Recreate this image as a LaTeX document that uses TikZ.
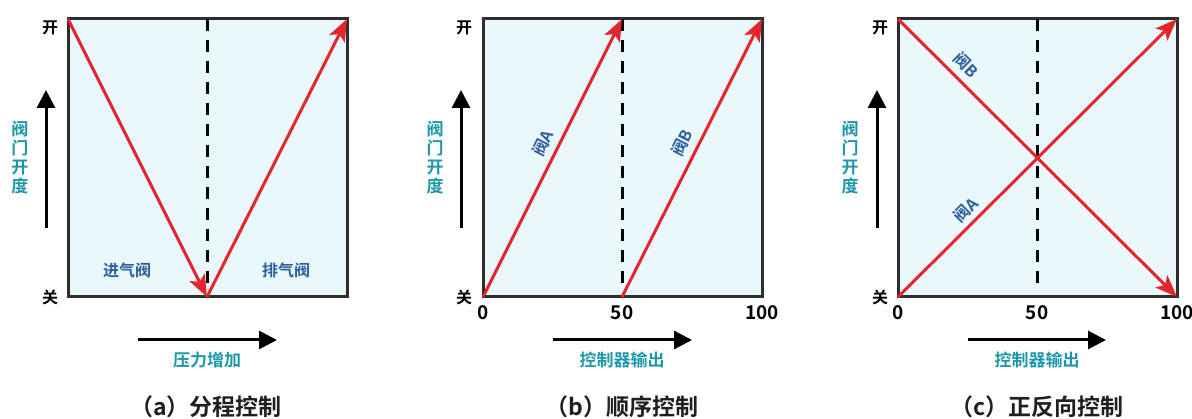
\documentclass[tikz,border=0pt]{standalone}
\usepackage{fontspec}
\setmainfont{Noto Sans CJK SC}[BoldFont={Noto Sans CJK SC Bold}]
\usetikzlibrary{arrows.meta}
\definecolor{bgfill}{HTML}{E9F8FB}
\definecolor{redline}{HTML}{E3262C}
\definecolor{lblue}{HTML}{2F5E9C}
\definecolor{axteal}{HTML}{1C98A8}
\definecolor{boxgray}{HTML}{2E2E2E}
\tikzset{
  panelbox/.style={draw=boxgray, line width=3pt, fill=bgfill},
  redarr/.style={draw=redline, line width=3pt, -{Stealth[length=22pt,width=17pt,inset=5pt]}},
  axarr/.style={draw=black, line width=3pt, -{Triangle[length=18pt,width=18pt]}},
  midline/.style={draw=black, line width=3pt, dash pattern=on 12pt off 9pt},
  oclabel/.style={font=\fontsize{16}{16}\selectfont\bfseries, text=black, inner sep=0pt},
  vlabel/.style={font=\fontsize{17}{19}\selectfont\bfseries, text=axteal, align=center, inner sep=0pt},
  hlabel/.style={font=\fontsize{17}{17}\selectfont\bfseries, text=axteal, inner sep=0pt},
  tick/.style={font=\fontsize{19}{19}\selectfont\bfseries, text=black, inner sep=0pt},
  valvelbl/.style={font=\fontsize{16}{16}\selectfont\bfseries, text=lblue, inner sep=0pt},
  caption/.style={font=\fontsize{23}{23}\selectfont\bfseries, text=black!88, inner sep=0pt},
}
\begin{document}
\begin{tikzpicture}[x=1pt,y=-1pt]
\useasboundingbox (0,0) rectangle (1192,419);

% ---------- panel (a) ----------
\coordinate (aTL) at (68,19);
\coordinate (aBR) at (347,297);
\coordinate (aBL) at (68,297);
\coordinate (aTR) at (347,19);
\coordinate (aMT) at (207,19);
\coordinate (aMB) at (207,297);
\coordinate (aMD) at (207,289);
\draw[panelbox] (aTL) rectangle (aBR);
\draw[midline] (aMT) -- (aMD);
\draw[redarr] (aTL) -- (aMB);
\draw[redarr] (aMB) -- (aTR);
\node[oclabel] (aopen) at (50,28) {开};
\node[oclabel] (aclose) at (50,297) {关};
\coordinate (avs) at (46,228);
\coordinate (ave) at (46,90);
\draw[axarr] (avs) -- (ave);
\node[vlabel] (avl) at (20,158) {阀\\门\\开\\度};
\coordinate (ahs) at (138,340);
\coordinate (ahe) at (277,340);
\draw[axarr] (ahs) -- (ahe);
\node[hlabel] (ahl) at (207,360) {压力增加};
\node[valvelbl] (ain) at (127,270) {进气阀};
\node[valvelbl] (aout) at (286,270) {排气阀};
\node[caption] (acap) at (206,407) {（a）分程控制};

% ---------- panel (b) ----------
\coordinate (bTL) at (483,19);
\coordinate (bBR) at (762,297);
\coordinate (bBL) at (483,297);
\coordinate (bTR) at (762,19);
\coordinate (bMT) at (622,19);
\coordinate (bMB) at (622,297);
\coordinate (bMD) at (622,289);
\draw[panelbox] (bTL) rectangle (bBR);
\draw[midline] (bMT) -- (bMD);
\draw[redarr] (bBL) -- (bMT);
\draw[redarr] (bMB) -- (bTR);
\node[oclabel] (bopen) at (464,28) {开};
\node[oclabel] (bclose) at (464,297) {关};
\node[tick] (b0) at (483,313) {0};
\node[tick] (b50) at (622,313) {50};
\node[tick] (b100) at (762,313) {100};
\coordinate (bvs) at (461,228);
\coordinate (bve) at (461,90);
\draw[axarr] (bvs) -- (bve);
\node[vlabel] (bvl) at (435,158) {阀\\门\\开\\度};
\coordinate (bhs) at (553,340);
\coordinate (bhe) at (692,340);
\draw[axarr] (bhs) -- (bhe);
\node[hlabel] (bhl) at (622,360) {控制器输出};
\node[valvelbl, rotate=63.4] (bA) at (543,143) {阀A};
\node[valvelbl, rotate=63.4] (bB) at (682,143) {阀B};
\node[caption] (bcap) at (622,407) {（b）顺序控制};

% ---------- panel (c) ----------
\coordinate (cTL) at (898,19);
\coordinate (cBR) at (1177,297);
\coordinate (cBL) at (898,297);
\coordinate (cTR) at (1177,19);
\coordinate (cMT) at (1037,19);
\coordinate (cMD) at (1037,287);
\draw[panelbox] (cTL) rectangle (cBR);
\draw[midline] (cMT) -- (cMD);
\draw[redarr] (cTL) -- (cBR);
\draw[redarr] (cBL) -- (cTR);
\node[oclabel] (copen) at (880,28) {开};
\node[oclabel] (cclose) at (880,297) {关};
\node[tick] (c0) at (898,313) {0};
\node[tick] (c50) at (1037,313) {50};
\node[tick] (c100) at (1177,313) {100};
\coordinate (cvs) at (877,228);
\coordinate (cve) at (877,90);
\draw[axarr] (cvs) -- (cve);
\node[vlabel] (cvl) at (850,158) {阀\\门\\开\\度};
\coordinate (chs) at (968,340);
\coordinate (che) at (1106,340);
\draw[axarr] (chs) -- (che);
\node[hlabel] (chl) at (1037,360) {控制器输出};
\node[valvelbl, rotate=-45] (cB) at (966,65) {阀B};
\node[valvelbl, rotate=45] (cA) at (966,210) {阀A};
\node[caption] (ccap) at (1037,407) {（c）正反向控制};
\end{tikzpicture}
\end{document}
